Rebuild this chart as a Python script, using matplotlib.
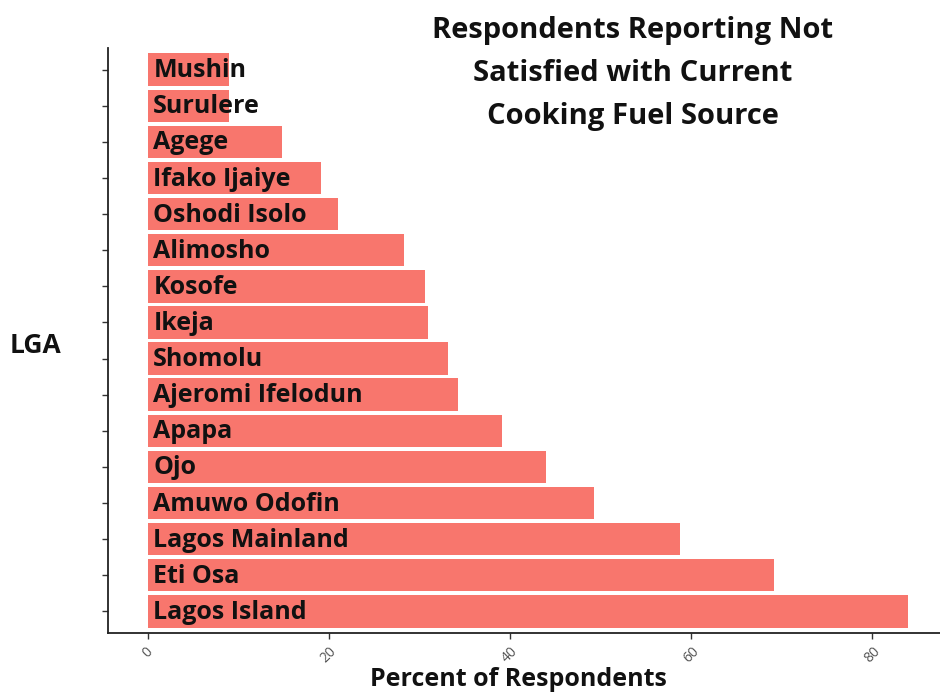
import matplotlib.pyplot as plt

# LGA names, top to bottom as shown
lgas = ['Mushin', 'Surulere', 'Agege', 'Ifako Ijaiye', 'Oshodi Isolo',
        'Alimosho', 'Kosofe', 'Ikeja', 'Shomolu', 'Ajeromi Ifelodun',
        'Apapa', 'Ojo', 'Amuwo Odofin', 'Lagos Mainland', 'Eti Osa',
        'Lagos Island']
# percent not satisfied
pct = [9.0, 9.0, 14.8, 19.1, 21.0, 28.3, 30.6, 31.0, 33.1, 34.3,
       39.1, 44.0, 49.3, 58.8, 69.2, 84.0]
xticks = [0, 20, 40, 60, 80]

plt.rcParams['font.family'] = ['Open Sans', 'DejaVu Sans']

fig = plt.figure(figsize=(9.4, 6.96), dpi=100)
ax = fig.add_axes([0.1149, 0.0905, 0.8851, 0.8405])

ypos = list(range(len(lgas)))
ax.barh(ypos, pct, height=0.9, color='#F8766D')
for y, name in zip(ypos, lgas):
    ax.text(0.6, y + 0.03, name, va='center', ha='left', fontsize=18,
            fontweight='bold', color='#111111')

ax.set_ylim(len(lgas) - 0.4, -0.6)
ax.set_xlim(-4.4, 87.5)
ax.set_yticks(ypos)
ax.set_yticklabels([])
ax.set_xticks(xticks)
ax.set_xticklabels([str(t) for t in xticks], rotation=45, fontsize=10,
                   color='#555555')
ax.tick_params(axis='y', length=4, width=1, color='#333333')
ax.tick_params(axis='x', length=4, width=1, color='#333333', pad=4)

for s in ['top', 'right']:
    ax.spines[s].set_visible(False)
for s in ['left', 'bottom']:
    ax.spines[s].set_linewidth(1.3)
    ax.spines[s].set_color('#222222')

fig.text(0.673, 0.8945, 'Respondents Reporting Not\nSatisfied with Current\nCooking Fuel Source',
         ha='center', va='center', fontsize=21, fontweight='bold',
         linespacing=1.62, color='#111111')
fig.text(0.038, 0.504, 'LGA', ha='center', va='center', fontsize=19,
         fontweight='bold', color='#111111')
fig.text(0.551, 0.024, 'Percent of Respondents', ha='center', va='center',
         fontsize=18, fontweight='bold', color='#111111')

fig.savefig('out.png', dpi=100)
